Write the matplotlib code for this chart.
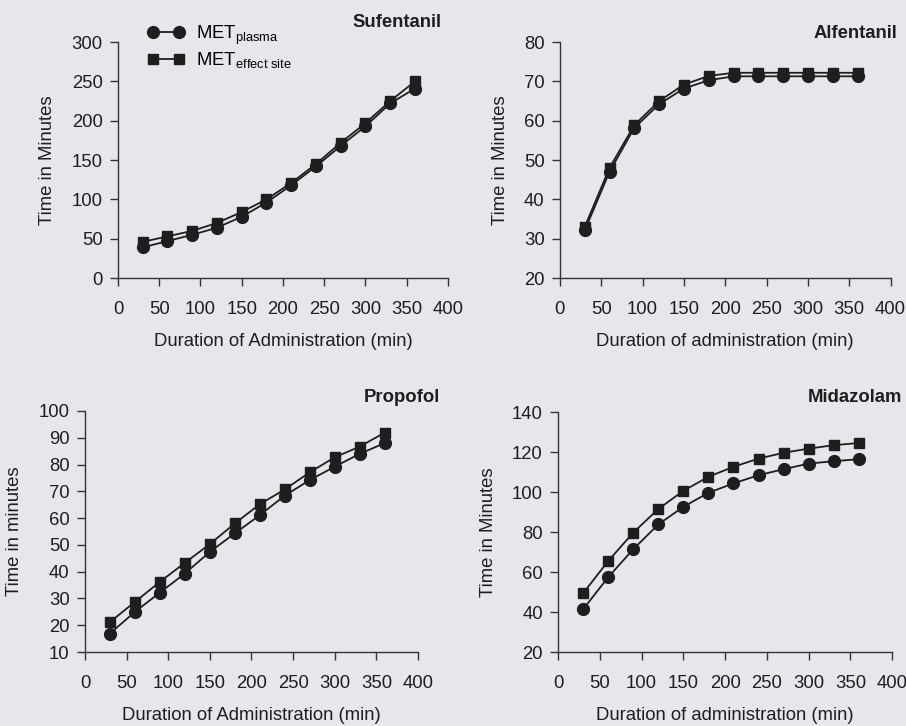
import numpy as np
import matplotlib
matplotlib.use("Agg")
import matplotlib.pyplot as plt

plt.rcParams['font.family'] = ['Liberation Sans', 'DejaVu Sans']
plt.rcParams['mathtext.fontset'] = 'custom'
plt.rcParams['mathtext.rm'] = 'Liberation Sans'
plt.rcParams['mathtext.it'] = 'Liberation Sans'

duration = [30, 60, 90, 120, 150, 180, 210, 240, 270, 300, 330, 360]

sufentanil_plasma = [39, 47, 55, 64, 78, 96, 118, 142, 168, 193, 222, 241]
sufentanil_effect = [46, 53, 60, 70, 84, 100, 121, 145, 172, 197, 225, 250]

alfentanil_plasma = [32.1, 47, 58.2, 64.2, 68.2, 70.3, 71.3, 71.3, 71.3, 71.3, 71.3, 71.3]
alfentanil_effect = [33, 48, 58.9, 65, 69.2, 71.4, 72.2, 72.2, 72.2, 72.2, 72.2, 72.2]

propofol_plasma = [16.9, 25, 32.2, 39.3, 47.4, 54.3, 61.1, 68.4, 74.2, 79.2, 84, 88]
propofol_effect = [21.2, 28.7, 36.2, 43.3, 50.3, 58, 65.2, 70.7, 77.1, 82.7, 86.7, 91.9]

midazolam_plasma = [41.4, 57.4, 71.4, 83.8, 92.6, 99.6, 104.3, 108.4, 111.4, 114.2, 115.4, 116.4]
midazolam_effect = [49.4, 65.5, 79.7, 91.5, 100.6, 107.6, 112.6, 116.7, 119.6, 121.7, 123.4, 124.5]

bg = '#e6e7ec'
ink = '#1e1e1e'

fig = plt.figure(figsize=(9.06, 7.26), dpi=100, facecolor=bg)

panels = [
    # title, plasma, effect, ylim, yticks, ylabel, xlabel, rect
    ("Sufentanil", sufentanil_plasma, sufentanil_effect, (0, 300), np.arange(0, 301, 50),
     "Time in Minutes", "Duration of Administration (min)", [0.1302, 0.617, 0.3642, 0.325]),
    ("Alfentanil", alfentanil_plasma, alfentanil_effect, (20, 80), np.arange(20, 81, 10),
     "Time in Minutes", "Duration of administration (min)", [0.618, 0.617, 0.365, 0.325]),
    ("Propofol", propofol_plasma, propofol_effect, (10, 100), np.arange(10, 101, 10),
     "Time in minutes", "Duration of Administration (min)", [0.0938, 0.1019, 0.3675, 0.332]),
    ("Midazolam", midazolam_plasma, midazolam_effect, (20, 140), np.arange(20, 141, 20),
     "Time in Minutes", "Duration of administration (min)", [0.616, 0.1019, 0.3687, 0.3306]),
]

title_pos = [(0.979, 1.085), (1.021, 1.038), (1.066, 1.054), (1.03, 1.0625)]

for i, (title, plasma, effect, ylim, yticks, ylabel, xlabel, rect) in enumerate(panels):
    ax = fig.add_axes(rect)
    ax.set_facecolor(bg)
    ax.plot(duration, plasma, color=ink, lw=1.3, marker='o', ms=8.5,
            label=r'MET$_{\mathrm{plasma}}$', clip_on=False)
    ax.plot(duration, effect, color=ink, lw=1.3, marker='s', ms=7.8,
            label=r'MET$_{\mathrm{effect\ site}}$', clip_on=False)
    ax.set_xlim(0, 400)
    ax.set_ylim(*ylim)
    ax.set_xticks(np.arange(0, 401, 50))
    ax.set_yticks(yticks)
    for s in ['top', 'right']:
        ax.spines[s].set_visible(False)
    for s in ['left', 'bottom']:
        ax.spines[s].set_color('#333333')
        ax.spines[s].set_linewidth(1.0)
    ax.tick_params(axis='x', direction='out', length=5.5, width=1, colors='#333333',
                   labelsize=13.3, labelcolor=ink, pad=11)
    ax.tick_params(axis='y', direction='out', length=6, width=1, colors='#333333',
                   labelsize=13.3, labelcolor=ink, pad=5)
    ax.set_ylabel(ylabel, fontsize=13.3, color=ink, labelpad=11)
    ax.set_xlabel(xlabel, fontsize=13.3, color=ink, labelpad=11)
    ax.text(title_pos[i][0], title_pos[i][1], title, transform=ax.transAxes, ha='right',
            va='center', fontsize=13.3, fontweight='bold', color=ink)
    if i == 0:
        ax.legend(loc='upper left', bbox_to_anchor=(0.04, 1.15), frameon=False,
                  numpoints=2, handlelength=2.0, fontsize=13.3, labelspacing=0.2,
                  handletextpad=0.6)

fig.savefig("out.png", dpi=100, facecolor=bg)
